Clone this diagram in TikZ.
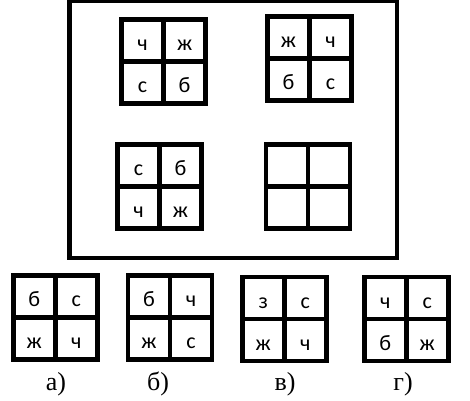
\documentclass[tikz,border=0pt]{standalone}
\usepackage{fontspec}
\setmainfont{Liberation Serif}
\newfontfamily\cellfont{Carlito}

% one 2x2 grid of letters: name, centre x, centre y, top left, top right, bottom left, bottom right
\newcommand{\lettergrid}[7]{%
  \node[cellbox] (#1-tl) at ({#2-21},{#3-21}) {#4};
  \node[cellbox] (#1-tr) at ({#2+21},{#3-21}) {#5};
  \node[cellbox] (#1-bl) at ({#2-21},{#3+21}) {#6};
  \node[cellbox] (#1-br) at ({#2+21},{#3+21}) {#7};
}

\begin{document}
\begin{tikzpicture}[
  x=1pt, y=-1pt,
  cellbox/.style={rectangle, draw, line width=4.7pt, minimum size=42pt, inner sep=0pt,
    text height=20pt, text depth=0pt, font=\cellfont\fontsize{22}{26}\selectfont},
  framebox/.style={rectangle, draw, line width=4.7pt, minimum width=327.7pt, minimum height=257.6pt},
  answer/.style={anchor=base, font=\fontsize{26}{30}\selectfont}
]
  \useasboundingbox (0,0) rectangle (470,400);

  % Frame round the task
  \node[framebox] (frame) at (233.15,129.2) {};

  % Task grids
  \lettergrid{q1}{163.6}{61.3}{ч}{ж}{с}{б}
  \lettergrid{q2}{309.5}{58.5}{ж}{ч}{б}{с}
  \lettergrid{q3}{159.5}{186.5}{с}{б}{ч}{ж}
  \lettergrid{q4}{308}{186.4}{}{}{}{}

  % Answer grids
  \lettergrid{a1}{55.3}{317.8}{б}{с}{ж}{ч}
  \lettergrid{a2}{170}{317.8}{б}{ч}{ж}{с}
  \lettergrid{a3}{284.2}{319}{з}{с}{ж}{ч}
  \lettergrid{a4}{406.3}{319}{ч}{с}{б}{ж}

  % Answer labels
  \node[answer] (la1) at (56,390) {а)};
  \node[answer] (la2) at (158,390) {б)};
  \node[answer] (la3) at (285,390) {в)};
  \node[answer] (la4) at (403,390) {г)};
\end{tikzpicture}
\end{document}
